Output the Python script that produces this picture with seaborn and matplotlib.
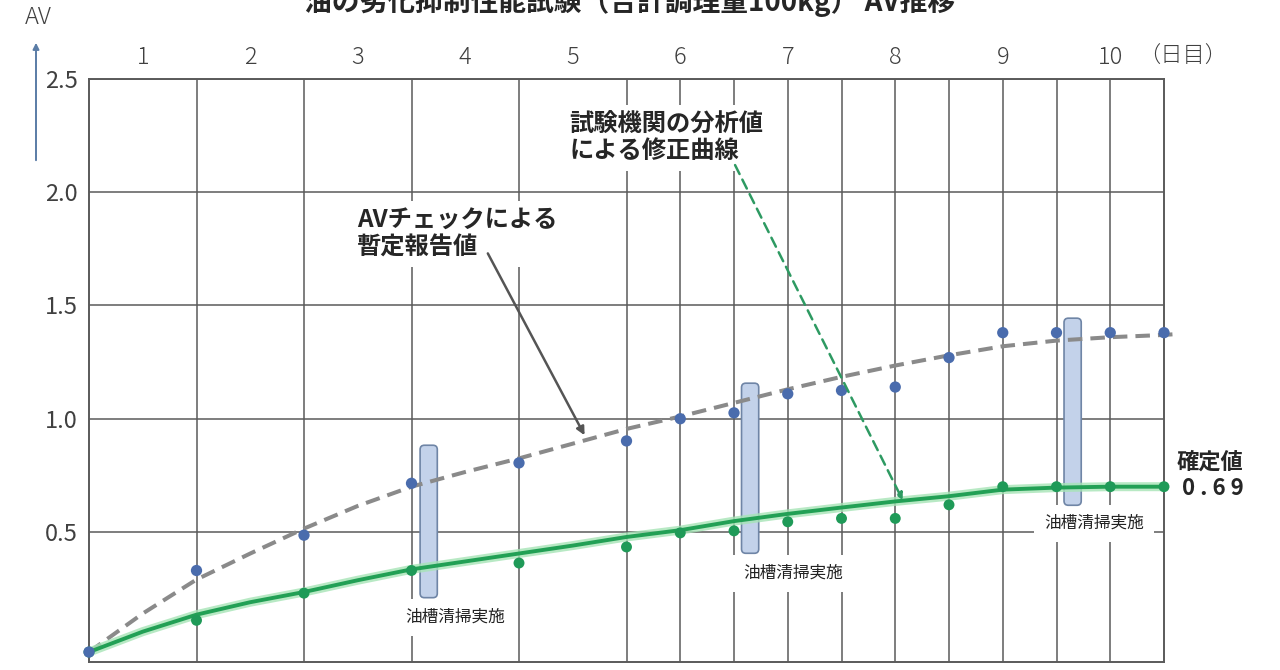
import numpy as np
import pandas as pd
import matplotlib
matplotlib.use("Agg")
import matplotlib.pyplot as plt
import matplotlib.patheffects as pe
import matplotlib.transforms as mtransforms
from matplotlib.patches import FancyBboxPatch
import seaborn as sns

# ---------------- data ----------------
title = "油の劣化抑制性能試験（合計調理量100kg） AV推移"
day_labels = ["1", "2", "3", "4", "5", "6", "7", "8", "9", "10"]
day_label_pos = [0.5, 1.5, 2.5, 3.5, 4.5, 5.5, 6.5, 7.5, 8.5, 9.5]
grid_days = [1, 2, 3, 4, 5, 5.5, 6, 6.5, 7, 7.5, 8, 8.5, 9, 9.5]

point_days = [0, 1, 2, 3, 4, 5, 5.5, 6, 6.5, 7, 7.5, 8, 8.5, 9, 9.5, 10]
provisional_av = [-0.03, 0.33, 0.486, 0.715, 0.805, 0.902, 1.0, 1.026,
                  1.11, 1.125, 1.14, 1.27, 1.38, 1.38, 1.38, 1.38]
corrected_av = [-0.03, 0.11, 0.23, 0.33, 0.363, 0.434, 0.496, 0.505,
                0.545, 0.56, 0.56, 0.62, 0.70, 0.70, 0.70, 0.70]

curve_days = [0, 0.5, 1, 1.5, 2, 2.5, 3, 3.5, 4, 4.5, 5, 5.5, 6, 6.5,
              7, 7.5, 8, 8.5, 9, 9.5, 10]
provisional_curve_days = curve_days + [10.15]
provisional_curve = [-0.03, 0.14, 0.29, 0.405, 0.515, 0.615, 0.70, 0.765,
                     0.825, 0.89, 0.955, 1.01, 1.07, 1.13, 1.185, 1.235,
                     1.28, 1.32, 1.345, 1.36, 1.37, 1.375]
corrected_curve = [-0.03, 0.06, 0.135, 0.19, 0.235, 0.287, 0.335, 0.37,
                   0.405, 0.44, 0.478, 0.508, 0.548, 0.58, 0.608, 0.635,
                   0.658, 0.687, 0.696, 0.70, 0.70]

y_ticks = [0.5, 1.0, 1.5, 2.0, 2.5]
y_tick_labels = ["0.5", "1.0", "1.5", "2.0", "2.5"]

cleaning_label = "油槽清掃実施"
cleaning_days = [3, 6, 9]
provisional_note = "AVチェックによる\n暫定報告値"
corrected_note = "試験機関の分析値\nによる修正曲線"
final_label = "確定値"
final_value = "0 . 6 9"
unit_label = "（日目）"
axis_label = "AV"

# ---------------- style ----------------
sns.set_style("white")
plt.rcParams["font.family"] = ["Noto Sans CJK JP", "DejaVu Sans"]

W, H = 1280, 670
fig = plt.figure(figsize=(W / 100, H / 100), dpi=100)
ax = fig.add_axes([89 / W, 8 / H, 1075 / W, 583 / H])
ax.set_xlim(0, 10)
ax.set_ylim(-0.074, 2.5)

grid_col = "#5a5a5a"
text_col = "#404040"
blue = "#4a6cad"
green_pt = "#1f9a58"
green_line = "#22a055"
gray_line = "#8a8a8a"

ax.set_xticks(grid_days)
ax.set_yticks(y_ticks)
ax.set_yticklabels(y_tick_labels)
ax.tick_params(axis="x", length=0, labelbottom=False)
ax.tick_params(axis="y", length=0, pad=8, labelsize=17, labelcolor=text_col)
ax.grid(True, color=grid_col, lw=1.1)
ax.set_axisbelow(True)
for s in ax.spines.values():
    s.set_color(grid_col)
    s.set_linewidth(1.4)
ax.set_xlabel("")
ax.set_ylabel("")

# top day labels
tr = mtransforms.blended_transform_factory(ax.transData, ax.transAxes)
for p, lab in zip(day_label_pos, day_labels):
    ax.text(p, 1 + 22 / 583, lab, transform=tr, ha="center", va="center",
            fontsize=17, color=text_col, fontweight="light")
ax.text(9.76, 1 + 22 / 583, unit_label, transform=tr, ha="left", va="center",
        fontsize=16, color=text_col, fontweight="light")

# cleaning rectangles
rect_specs = [(3.08, 0.21, 0.883), (6.07, 0.406, 1.157), (9.07, 0.618, 1.444)]
for x0, y0, y1 in rect_specs:
    r = FancyBboxPatch((x0, y0), 0.16, y1 - y0,
                       boxstyle="round,pad=0,rounding_size=0.04",
                       mutation_aspect=107.5 / 226.5,
                       fc="#c3d2ea", ec="#6f85a6", lw=1.2, zorder=2.5)
    ax.add_patch(r)

label_pos = [(3.41, 0.124), (6.55, 0.318), (9.35, 0.539)]
for (lx, ly), d in zip(label_pos, cleaning_days):
    ax.text(lx, ly, cleaning_label, ha="center", va="center", fontsize=12,
            color="#222222", zorder=2.2,
            bbox=dict(boxstyle="square,pad=0.6", fc="white", ec="none"))

# curves
dfp = pd.DataFrame({"day": provisional_curve_days, "av": provisional_curve})
dfc = pd.DataFrame({"day": curve_days, "av": corrected_curve})
sns.lineplot(data=dfp, x="day", y="av", ax=ax, color=gray_line, lw=2.9,
             sort=False, estimator=None, zorder=3)
ln = ax.lines[-1]
ln.set_dashes((3.6, 2.0))
ln.set_dash_capstyle("butt")
ln.set_clip_on(False)
sns.lineplot(data=dfc, x="day", y="av", ax=ax, color=green_line, lw=2.8,
             sort=False, estimator=None, zorder=3.2)
ax.lines[-1].set_path_effects([pe.Stroke(linewidth=6.5, foreground="#a6e4b6", alpha=0.8),
                               pe.Normal()])

# points
dpts = pd.DataFrame({"day": point_days, "prov": provisional_av, "corr": corrected_av})
sns.scatterplot(data=dpts, x="day", y="corr", ax=ax, color=green_pt, s=62,
                edgecolor="none", zorder=4, clip_on=False)
sns.scatterplot(data=dpts, x="day", y="prov", ax=ax, color=blue, s=66,
                edgecolor="none", zorder=4.2, clip_on=False)
ax.set_xlabel("")
ax.set_ylabel("")

# annotations
ax.text(2.49, 1.815, provisional_note, ha="left", va="center", fontsize=17.5,
        fontweight="bold", color="#262626", linespacing=1.15, zorder=2.2,
        bbox=dict(boxstyle="square,pad=0.3", fc="white", ec="none"))
ax.text(4.47, 2.24, corrected_note, ha="left", va="center", fontsize=17.5,
        fontweight="bold", color="#262626", linespacing=1.15, zorder=2.2,
        bbox=dict(boxstyle="square,pad=0.3", fc="white", ec="none"))
ax.annotate("", xy=(4.61, 0.927), xytext=(3.71, 1.73),
            arrowprops=dict(arrowstyle="-|>", color="#555555", lw=1.8,
                            mutation_scale=12, shrinkA=0, shrinkB=0), zorder=5)
ax.annotate("", xy=(7.57, 0.64), xytext=(6.01, 2.12),
            arrowprops=dict(arrowstyle="-|>", color="#2e9a62", lw=1.8,
                            linestyle=(0, (4, 2.5)), mutation_scale=10,
                            shrinkA=0, shrinkB=0), zorder=5)

ax.text(10.43, 0.808, final_label, ha="center", va="center", fontsize=16,
        fontweight="bold", color="#262626", clip_on=False)
ax.text(10.45, 0.69, final_value, ha="center", va="center", fontsize=16,
        fontweight="bold", color="#262626", clip_on=False)

# figure-level texts
fig.text(630 / W, (H - 11) / H, title, ha="center", va="baseline",
         fontsize=20, fontweight="bold", color="#262626")
fig.text(38 / W, (H - 18) / H, axis_label, ha="center", va="center",
         fontsize=17, color=text_col, fontweight="light")
fig.add_artist(matplotlib.patches.FancyArrowPatch(
    (36 / W, (H - 163) / H), (36 / W, (H - 40) / H), transform=fig.transFigure,
    arrowstyle="-|>", mutation_scale=9, color="#5a7ca6", lw=1.4))

fig.savefig("out.png", dpi=100)
